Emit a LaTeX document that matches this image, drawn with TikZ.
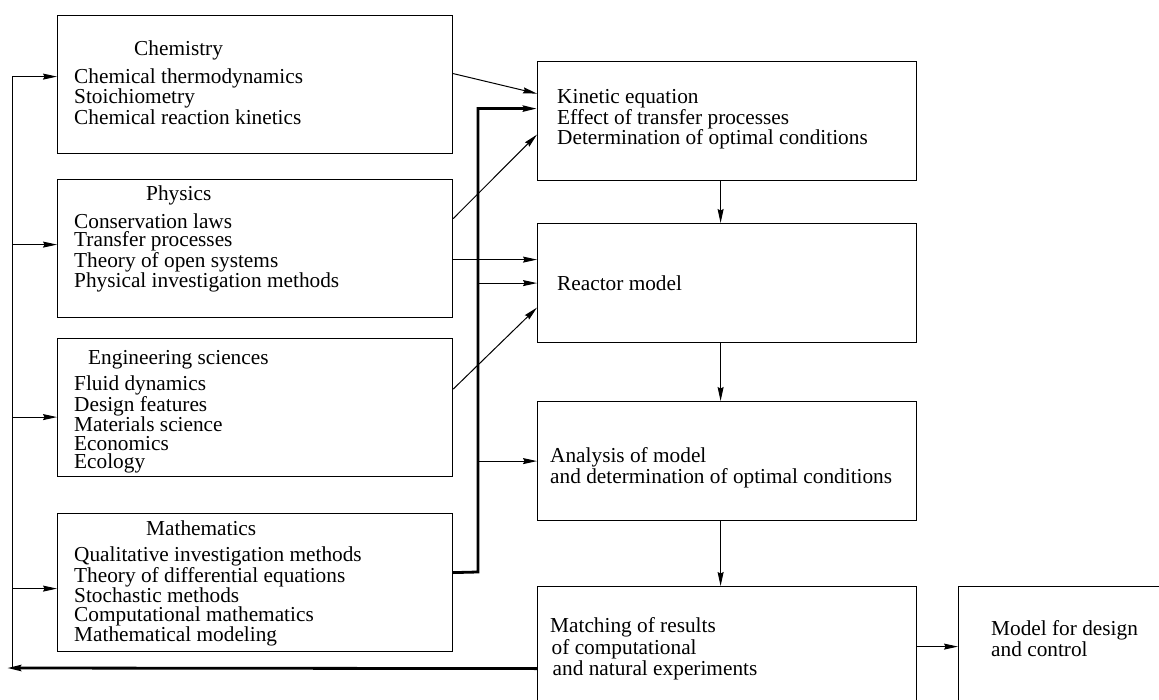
\documentclass[tikz,border=0pt]{standalone}
\usepackage{fontspec}
\setmainfont{Liberation Serif}
\usetikzlibrary{positioning,arrows.meta,calc}

\begin{document}
\begin{tikzpicture}[x=1pt, y=-1pt,
  box/.style={draw, line width=1.2pt, anchor=north west, minimum width=395pt, minimum height=138pt, inner sep=0pt},
  rbox/.style={box, minimum width=379pt, minimum height=119pt},
  txt/.style={anchor=north west, inner sep=0pt, align=left, font=\fontsize{21.3}{18.6}\selectfont},
  arr/.style={-{Stealth[length=14pt, width=6pt, inset=1.5pt]}, line width=1pt},
  bold/.style={line width=2.8pt}]
\clip (0,0) rectangle (1159,700);
% sources
\node[box] (chem) at (57,15) {};
\node[txt] (chemtxt) at (74,40.5) {\hspace*{60pt}Chemistry\\[7.4pt]Chemical thermodynamics\\Stoichiometry\\Chemical reaction kinetics};
\node[box] (phys) at (57,179) {};
\node[txt] (phystxt) at (74,185.5) {\hspace*{72pt}Physics\\[7.4pt]Conservation laws\\Transfer processes\\Theory of open systems\\Physical investigation methods};
\node[box] (eng) at (57,338) {};
\node[txt] (engtxt) at (74,350.5) {\hspace*{14pt}Engineering sciences\\[5.4pt]Fluid dynamics\\Design features\\Materials science\\Economics\\Ecology};
\node[box] (math) at (57,513) {};
\node[txt] (mathtxt) at (74,520.5) {\hspace*{72pt}Mathematics\\[7.4pt]Qualitative investigation methods\\Theory of differential equations\\Stochastic methods\\Computational mathematics\\Mathematical modeling};
% main chain
\node[rbox] (kin) at (537,61) {};
\node[txt] (kintxt) at (557,89.5) {Kinetic equation\\Effect of transfer processes\\Determination of optimal conditions};
\node[rbox] (reac) at (537,223) {};
\node[txt] (reactxt) at (557,275.5) {Reactor model};
\node[rbox] (anal) at (537,401) {};
\node[txt, font=\fontsize{21.3}{21}\selectfont] (analtxt) at (550,447.5) {Analysis of model\\and determination of optimal conditions};
\node[rbox, minimum height=164pt] (match) at (537,586) {};
\node[txt, font=\fontsize{21.3}{21.5}\selectfont] (matchtxt) at (550,617.5) {Matching of results\\\hspace*{1.5pt}of computational\\\hspace*{2.5pt}and natural experiments};
\node[box, minimum width=250pt, minimum height=164pt] (model) at (958,586) {};
\node[txt, font=\fontsize{21.3}{19}\selectfont] (modeltxt) at (991,620.5) {Model for design\\and control};

\coordinate (bus) at (478,572);
\coordinate (rail) at (12,668);
\coordinate (ret) at (7,668);

\draw[arr] ([yshift=11pt]chem.east) -- ([yshift=27.5pt]kin.west);
\draw[arr] ([yshift=30pt]phys.east) -- ([yshift=-13.5pt]kin.west);
\draw[arr] ([yshift=-11pt]phys.east) -- ([yshift=23.5pt]reac.west);
\draw[arr] ([yshift=18.5pt]eng.east) -- ([yshift=-24.5pt]reac.west);
\draw[arr, bold] ([yshift=10pt]math.east) -- (bus) |- ([yshift=12.5pt]kin.west);
\draw[arr] (bus |- reac.west) -- (reac.west);
\draw[arr] (bus |- anal.west) -- (anal.west);
\draw[arr] ([xshift=-6.5pt]kin.south) -- ([xshift=-6.5pt]reac.north);
\draw[arr] ([xshift=-6.5pt]reac.south) -- ([xshift=-6.5pt]anal.north);
\draw[arr] ([xshift=-6.5pt]anal.south) -- ([xshift=-6.5pt]match.north);
\draw[arr] ([yshift=22pt]match.east) -- ([yshift=22pt]model.west);
% feedback
\draw[arr, bold] (match.west) -- (ret);
\draw[line width=1pt] (rail) -- ([xshift=-45pt,yshift=8pt]chem.west);
\foreach \n/\dy in {chem/8,phys/4,eng/-9.5,math/-6}
  \draw[arr] ([xshift=-45pt,yshift=\dy pt]\n.west) -- ([yshift=\dy pt]\n.west);
\end{tikzpicture}
\end{document}
